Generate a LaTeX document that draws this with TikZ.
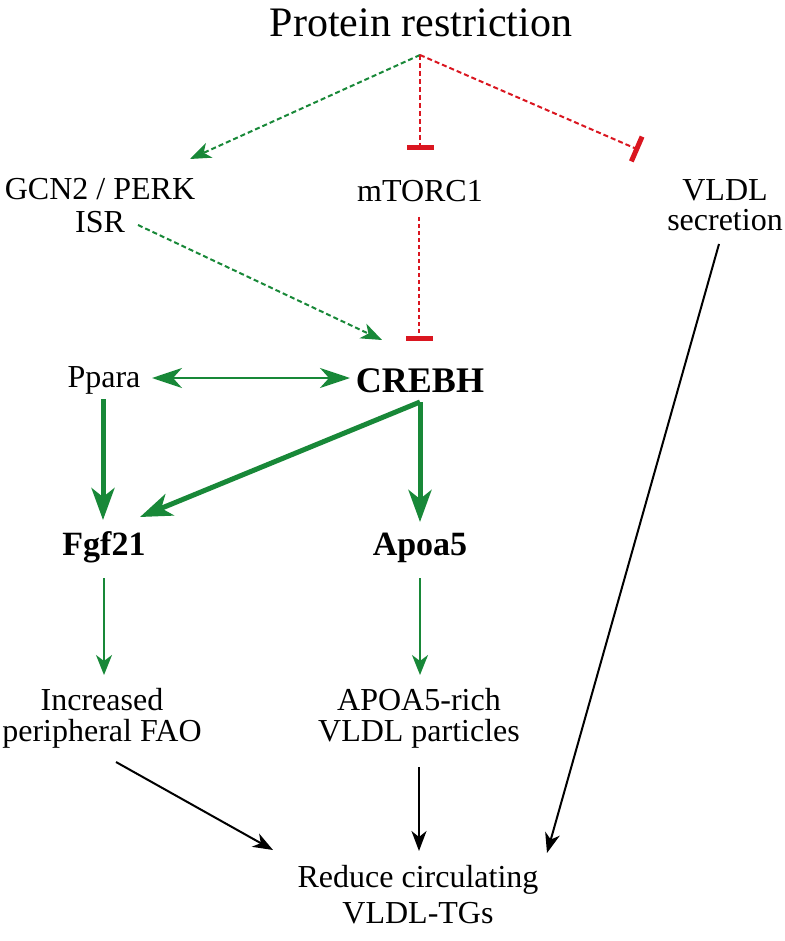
\documentclass[tikz,border=0pt]{standalone}
\usepackage{fontspec}
\setmainfont{Liberation Serif}
\usetikzlibrary{arrows.meta}
\definecolor{pgreen}{RGB}{24,136,56}
\definecolor{pred}{RGB}{218,22,32}
\begin{document}
\begin{tikzpicture}[x=1pt,y=-1pt,
  lbl/.style={inner sep=0pt, anchor=base, align=center, font=\fontsize{32}{33}\selectfont},
  title/.style={inner sep=0pt, anchor=base, font=\fontsize{42}{44}\selectfont},
  boldbig/.style={inner sep=0pt, anchor=base, font=\fontsize{36}{38}\selectfont\bfseries},
  boldmid/.style={inner sep=0pt, anchor=base, font=\fontsize{34}{36}\selectfont\bfseries},
  gdash/.style={draw=pgreen, line width=2pt, dash pattern=on 5pt off 3pt, -{Stealth[length=21pt,width=16pt,inset=6pt]}},
  rdash/.style={draw=pred, line width=2pt, dash pattern=on 5pt off 3pt, -{Bar[width=27pt,line width=5pt]}},
  dbl/.style={draw=pgreen, line width=2.5pt, {Stealth[length=30pt,width=20pt,inset=9pt]}-{Stealth[length=30pt,width=20pt,inset=9pt]}},
  thick/.style={draw=pgreen, line width=5pt, -{Stealth[length=32pt,width=23pt,inset=9pt]}},
  thin/.style={draw=pgreen, line width=2pt, -{Stealth[length=20pt,width=16pt,inset=6pt]}},
  blk/.style={draw=black, line width=2pt, -{Stealth[length=20pt,width=15pt,inset=6pt]}}
]
\path[use as bounding box, fill=white] (0,0) rectangle (784,941);

\node[title] (pr) at (421,37) {Protein restriction};
\coordinate (apex) at (420,55);
\node[lbl] (gcn) at (100,233) {GCN2 / PERK\\ISR};
\node[lbl] (mtor) at (420,202) {mTORC1};
\node[lbl, font=\fontsize{32}{29}\selectfont] (vldl) at (725,230) {VLDL\\secretion};
\node[lbl] (ppara) at (104,387) {Ppara};
\node[boldbig] (crebh) at (420,392) {CREBH};
\node[boldmid] (fgf) at (104,555) {Fgf21};
\node[boldmid] (apoa) at (420,555) {Apoa5};
\node[lbl, font=\fontsize{32}{31}\selectfont] (fao) at (102,741) {Increased\\peripheral FAO};
\node[lbl, font=\fontsize{32}{31}\selectfont] (apr) at (419,741) {APOA5-rich\\VLDL particles};
\node[lbl, font=\fontsize{32}{36}\selectfont] (red) at (418,923) {Reduce circulating\\VLDL-TGs};

% from protein restriction
\draw[gdash] (apex) -- ([shift={(90,-74)}]gcn.base);
\draw[rdash] (apex) -- ([shift={(0,-52)}]mtor.base);
\draw[rdash] (apex) -- ([shift={(-86,-80)}]vldl.base);

% to CREBH
\draw[rdash, dash pattern=on 4pt off 3pt] ([shift={(-1,15)}]mtor.base) -- ([shift={(-1,-51)}]crebh.base);
\draw[gdash] ([shift={(38,-8)}]gcn.base) -- ([shift={(-38,-52)}]crebh.base);
\draw[dbl] ([shift={(48,-9)}]ppara.base) -- ([shift={(-70,-14)}]crebh.base);

% thick arrows
\draw[thick] ([shift={(-1,12)}]ppara.base) -- ([shift={(-1,-35)}]fgf.base);
\draw[thick] ([shift={(0,10)}]crebh.base) -- ([shift={(36,-38)}]fgf.base);
\draw[thick] ([shift={(0,10)}]crebh.base) -- ([shift={(0,-33)}]apoa.base);

% thin green
\draw[thin] ([shift={(0,23)}]fgf.base) -- ([shift={(2,-66)}]fao.base);
\draw[thin] ([shift={(0,23)}]apoa.base) -- ([shift={(1,-66)}]apr.base);

% black
\draw[blk] ([shift={(14,21)}]fao.base) -- ([shift={(-145,-73)}]red.base);
\draw[blk] ([shift={(0,26)}]apr.base) -- ([shift={(1,-72)}]red.base);
\draw[blk] ([shift={(-6,14)}]vldl.base) -- ([shift={(129,-70)}]red.base);
\end{tikzpicture}
\end{document}
